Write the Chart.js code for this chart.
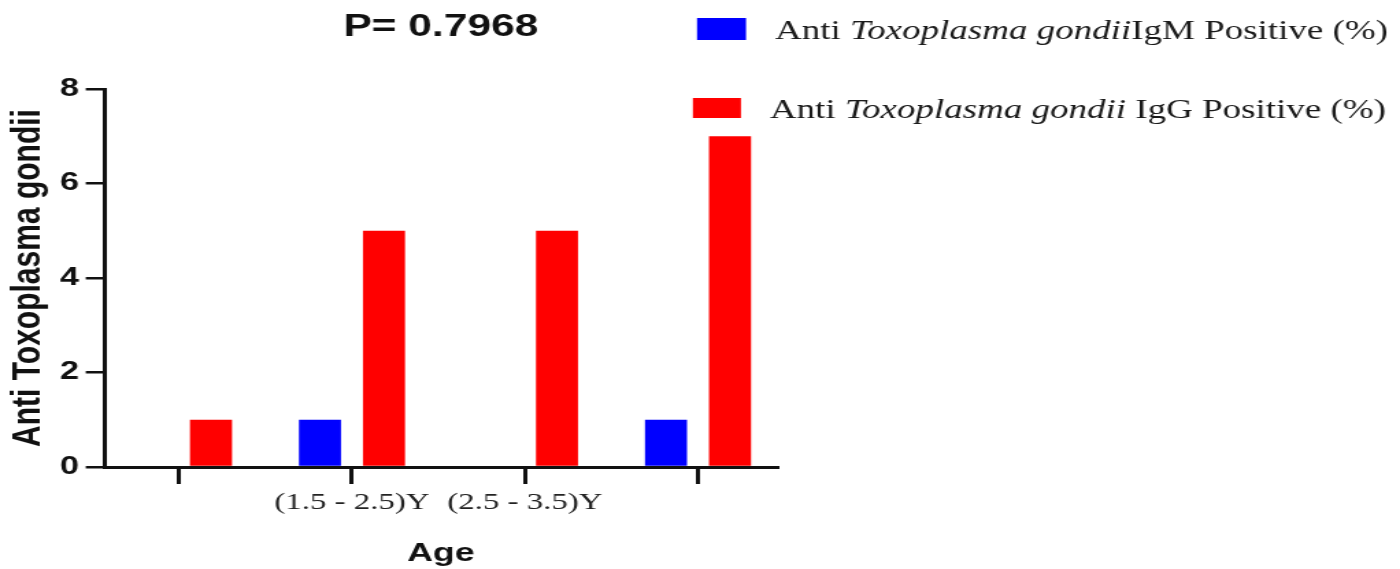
<!DOCTYPE html>
<html>
<head>
<meta charset="utf-8">
<title>Anti Toxoplasma gondii by age</title>
<script src="https://cdn.jsdelivr.net/npm/chart.js@4.4.1/dist/chart.umd.min.js"></script>
<style>
  html, body { margin: 0; padding: 0; background: #ffffff; overflow: hidden; }
  /* the figure is drawn on a narrower canvas and widened horizontally */
  #stage { width: 1022px; height: 569px; transform: scaleX(1.36986); transform-origin: 0 0; }
  canvas { display: block; }
</style>
</head>
<body>
<div id="stage"><canvas id="chart" width="1022" height="569"></canvas></div>
<script>
// ---- data ----
const tickLabels = ['', '(1.5 - 2.5)Y', '(2.5 - 3.5)Y', ''];
const igmPositive = [0, 1, 0, 1];
const iggPositive = [1, 5, 5, 7];
const yTicks = [0, 2, 4, 6, 8];

const chartTitle = 'P= 0.7968';
const xTitle = 'Age';
const yTitle = 'Anti Toxoplasma gondii';
// legend text pieces: [text, italic]
const igmLabelParts = [['Anti ', false], ['Toxoplasma gondii', true], ['IgM Positive (%)', false]];
const iggLabelParts = [['Anti ', false], ['Toxoplasma gondii', true], [' IgG Positive (%)', false]];

const SANS = '"Liberation Sans", Arial, Helvetica, sans-serif';
const SERIF = '"Liberation Serif", "Times New Roman", serif';
const INK = '#111111';

const toPoints = arr => arr.map((v, i) => ({ x: i, y: v }));
const joinParts = parts => parts.map(p => p[0]).join('');

// legend drawn beside the plot, with the species name in italics
const sideLegend = {
  id: 'sideLegend',
  afterDraw(chart, args, opts) {
    const ctx = chart.ctx;
    ctx.save();
    chart.data.datasets.forEach((ds, i) => {
      const row = opts.rows[i];
      ctx.fillStyle = ds.backgroundColor;
      ctx.fillRect(row.boxX, row.boxY, row.boxW, row.boxH);
      ctx.fillStyle = opts.color;
      ctx.textBaseline = 'alphabetic';
      ctx.textAlign = 'left';
      let x = row.textX;
      ds.labelParts.forEach(([txt, italic]) => {
        ctx.font = (italic ? 'italic ' : '') + opts.size + 'px ' + SERIF;
        ctx.fillText(txt, x, row.baseline);
        x += ctx.measureText(txt).width;
      });
    });
    ctx.restore();
  }
};

new Chart(document.getElementById('chart'), {
  type: 'bar',
  data: {
    datasets: [
      {
        label: joinParts(igmLabelParts),
        labelParts: igmLabelParts,
        data: toPoints(igmPositive),
        backgroundColor: '#0000ff',
        borderWidth: 0,
        categoryPercentage: 0.74,
        barPercentage: 0.657
      },
      {
        label: joinParts(iggLabelParts),
        labelParts: iggLabelParts,
        data: toPoints(iggPositive),
        backgroundColor: '#ff0000',
        borderWidth: 0,
        categoryPercentage: 0.74,
        barPercentage: 0.657
      }
    ]
  },
  options: {
    responsive: false,
    animation: false,
    devicePixelRatio: 1,
    layout: { padding: { left: 0, right: 455, top: 0, bottom: 0 } },
    plugins: {
      legend: { display: false },
      tooltip: { enabled: false },
      title: {
        display: true,
        text: chartTitle,
        fullSize: false,
        color: INK,
        font: { family: SANS, size: 31, weight: 'bold' },
        padding: { top: 9, bottom: 42.8 }
      },
      sideLegend: {
        color: '#1a1a1a',
        size: 27,
        rows: [
          { boxX: 508.8, boxY: 18, boxW: 35.8, boxH: 22, textX: 565.7, baseline: 39 },
          { boxX: 505.8, boxY: 98, boxW: 35.1, boxH: 20, textX: 562.0, baseline: 118 }
        ]
      }
    },
    scales: {
      x: {
        type: 'linear',
        bounds: 'data',
        offset: false,
        min: -0.428,
        max: 3.455,
        afterBuildTicks: s => { s.ticks = tickLabels.map((_, i) => ({ value: i })); },
        afterFit: s => { s.height = 102; },
        ticks: {
          callback: (v, i) => tickLabels[i] ?? '',
          autoSkip: false,
          maxRotation: 0,
          padding: 4,
          color: '#222222',
          font: { family: SERIF, size: 24 }
        },
        grid: { offset: false, drawOnChartArea: false, drawTicks: true, tickLength: 17, color: INK, lineWidth: 3 },
        border: { display: true, color: INK, width: 3 },
        title: {
          display: true,
          text: xTitle,
          color: INK,
          font: { family: SANS, size: 26, weight: 'bold' },
          padding: { top: 0, bottom: 0 }
        }
      },
      y: {
        min: 0,
        max: 8,
        afterBuildTicks: s => { s.ticks = yTicks.map(v => ({ value: v })); },
        afterFit: s => { s.width = 76.6; },
        ticks: {
          padding: 5,
          color: INK,
          font: { family: SANS, size: 25, weight: 'bold' }
        },
        grid: { drawOnChartArea: false, drawTicks: true, tickLength: 14, color: INK, lineWidth: 2.5 },
        border: { display: true, color: INK, width: 3 },
        title: {
          display: true,
          text: yTitle,
          color: INK,
          font: { family: SANS, size: 30, weight: 'bold' },
          padding: { top: 3, bottom: 0 }
        }
      }
    }
  },
  plugins: [sideLegend]
});
</script>
</body>
</html>
